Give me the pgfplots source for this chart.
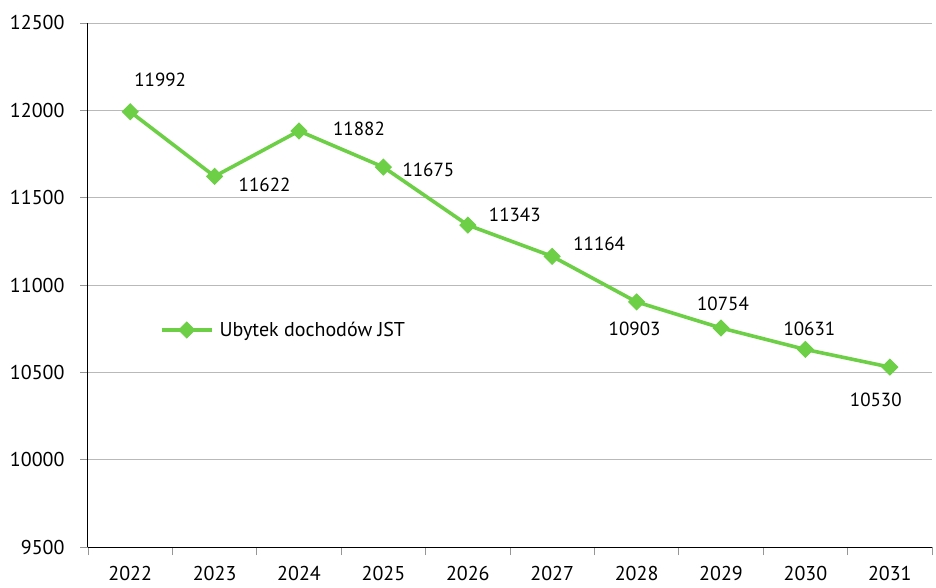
\documentclass[border=0pt]{standalone}
\usepackage{pgfplots}
\pgfplotsset{compat=1.18}
\usepackage{pgfplotstable}
\usepackage{fontspec}
\setmainfont{PT Sans}
\definecolor{lgreen}{RGB}{108,207,70}
\definecolor{gridgray}{RGB}{185,185,185}
\definecolor{tickgray}{RGB}{150,150,150}
\pgfplotstableread{
x y dx dy
0 11992 30 32
1 11622 50 -8
2 11882 60 2
3 11675 45 -3
4 11343 47 10
5 11164 47 13
6 10903 -2 -27
7 10754 2 24
8 10631 4 21
9 10530 -14 -33
}\datatable
\begin{document}
\begin{tikzpicture}
\useasboundingbox (-88pt,-40pt) rectangle (848pt,547pt);
\begin{axis}[
  at={(0pt,0pt)}, anchor=south west,
  scale only axis, width=844pt, height=524pt,
  xmin=-0.5, xmax=9.5, ymin=9500, ymax=12500,
  axis x line=bottom, axis y line=left,
  axis line style={-, black, line width=1pt},
  xtick={0,...,9},
  xticklabels={2022,2023,2024,2025,2026,2027,2028,2029,2030,2031},
  minor xtick={-0.5,0.5,...,9.5},
  major x tick style={draw=none},
  minor x tick style={tickgray, line width=0.8pt},
  minor tick length=8pt,
  ytick={9500,10000,...,12500},
  scaled y ticks=false,
  yticklabel={\pgfmathprintnumber[fixed, precision=0, set thousands separator={}, assume math mode=true]{\tick}},
  major tick length=8pt,
  y tick style={tickgray, line width=0.8pt},
  tick align=outside,
  ymajorgrids,
  major grid style={gridgray, line width=0.9pt},
  /pgf/number format/assume math mode=true,
  /pgf/number format/set thousands separator={},
  tick label style={font=\fontsize{20}{24}\selectfont, black},
  yticklabel style={anchor=east, xshift=-12pt},
  xticklabel style={anchor=north, yshift=-8pt},
  clip=false,
  legend style={at={(0.085,0.414)}, anchor=west, draw=none, fill=none,
    font=\fontsize{20}{24}\selectfont, inner sep=0pt,
    /tikz/every odd column/.append style={column sep=4pt}},
  legend cell align=left,
]
\addplot[lgreen, line width=3.6pt, mark=square*, mark size=5.6pt,
  mark options={rotate=45, fill=lgreen, draw=lgreen, line width=1pt, rounded corners=1pt},
  point meta=explicit symbolic,
  nodes near coords,
  visualization depends on={\thisrow{dx} \as \dx},
  visualization depends on={\thisrow{dy} \as \dy},
  nodes near coords style={anchor=center, xshift=\dx pt, yshift=\dy pt,
    font=\fontsize{19}{23}\selectfont, text=black},
  legend image code/.code={%
    \draw[mark repeat=2, mark phase=2] plot coordinates {(0pt,0pt) (25pt,0pt) (50pt,0pt)};}
] table[x=x, y=y, meta=y] {\datatable};
\addlegendentry{Ubytek dochodów JST}
\end{axis}
\end{tikzpicture}
\end{document}
